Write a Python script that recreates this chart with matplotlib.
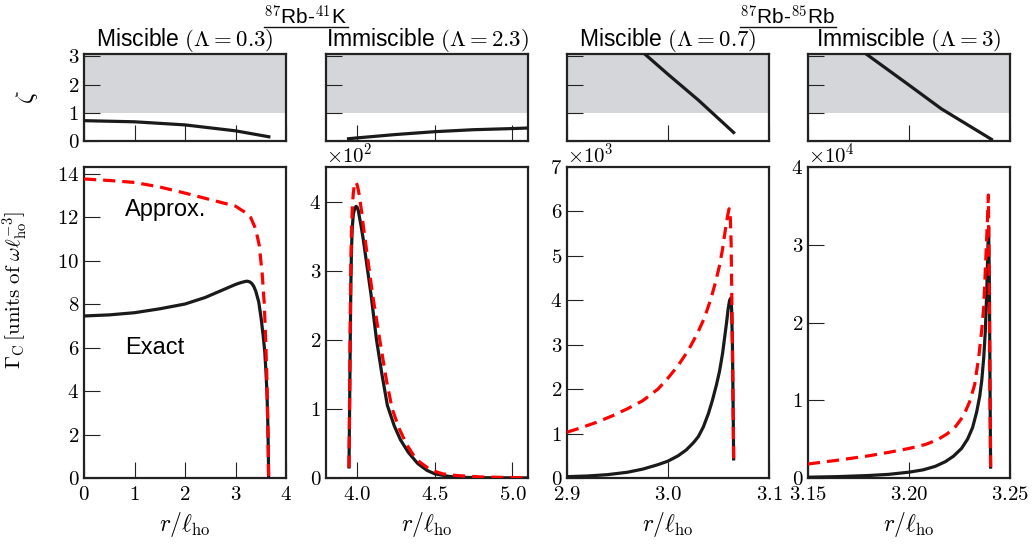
import numpy as np
import matplotlib
matplotlib.use("Agg")
import matplotlib.pyplot as plt
from matplotlib.lines import Line2D
from matplotlib.ticker import ScalarFormatter

plt.rcParams.update({
    "font.family": "serif",
    "font.serif": ["cmr10"],
    "mathtext.fontset": "cm",
    "axes.formatter.use_mathtext": True,
    "axes.unicode_minus": False,
})

SANS = "Liberation Sans"

# ---------------- data ----------------
# Panel A: 87Rb-41K miscible (Lambda = 0.3)
a_exact_r = [0.0, 0.5, 1.0, 1.5, 2.0, 2.2, 2.4, 2.7, 2.85, 3.0, 3.1, 3.18, 3.23, 3.28, 3.32,
             3.36, 3.4, 3.46, 3.51, 3.55, 3.58, 3.605, 3.625, 3.64, 3.65, 3.656]
a_exact_g = [7.45, 7.5, 7.6, 7.78, 8.0, 8.15, 8.3, 8.6, 8.75, 8.9, 8.98, 9.03, 9.05, 9.02, 8.95,
             8.82, 8.6, 8.1, 7.3, 6.5, 5.8, 4.8, 3.8, 2.5, 1.3, 0.0]
a_approx_r = [0.0, 0.5, 1.0, 1.5, 2.0, 2.5, 3.0, 3.2, 3.3, 3.4, 3.47, 3.53, 3.57, 3.6,
              3.62, 3.64, 3.656]
a_approx_g = [13.75, 13.68, 13.59, 13.38, 13.1, 12.8, 12.5, 12.2, 11.98, 11.45, 10.7, 9.35,
              8.0, 6.2, 4.7, 2.45, 0.0]
a_zeta_r = [0.0, 1.0, 2.0, 3.0, 3.66]
a_zeta = [0.72, 0.68, 0.57, 0.36, 0.15]

# Panel B: 87Rb-41K immiscible (Lambda = 2.3)
b_exact_r = [3.948, 3.951, 3.954, 3.957, 3.96, 3.964, 3.969, 3.976, 3.985, 3.993, 4.0, 4.008,
             4.015, 4.027, 4.04, 4.065, 4.09, 4.125, 4.16, 4.195, 4.24, 4.28, 4.33, 4.39,
             4.45, 4.5, 4.6, 4.7, 4.8, 5.1]
b_exact_g = [16, 80, 150, 220, 280, 330, 362, 382, 390, 393, 392, 387,
             378, 363, 345, 305, 265, 200, 150, 105, 75, 55, 37, 21,
             11, 6, 2, 0.8, 0.4, 0.1]
b_approx_r = [3.948, 3.951, 3.954, 3.957, 3.96, 3.964, 3.97, 3.976, 3.982, 3.988, 3.993, 3.999,
              4.005, 4.012, 4.02, 4.03, 4.04, 4.055, 4.07, 4.1, 4.146, 4.19, 4.226, 4.27,
              4.32, 4.38, 4.47, 4.55, 4.645, 4.8, 5.0, 5.1]
b_approx_g = [15, 90, 170, 245, 310, 360, 395, 413, 423, 428, 428, 425,
              420, 412, 400, 384, 365, 340, 315, 265, 200, 140, 100, 72,
              48, 27, 12, 6, 3.5, 1.5, 0.6, 0.4]
b_zeta_r = [3.945, 4.0, 4.25, 4.5, 4.75, 5.0, 5.1]
b_zeta = [0.08, 0.11, 0.23, 0.33, 0.4, 0.44, 0.46]

# Panel C: 87Rb-85Rb miscible (Lambda = 0.7)
c_exact_r = [2.9, 2.92, 2.94, 2.96, 2.975, 2.99, 3.0, 3.01, 3.018, 3.025, 3.03, 3.035,
             3.04, 3.044, 3.048, 3.051, 3.054, 3.056, 3.058, 3.0595, 3.061, 3.0622,
             3.063, 3.0638, 3.0644, 3.065]
c_exact_g = [30, 45, 75, 130, 200, 300, 380, 500, 630, 790, 930, 1150,
             1450, 1750, 2100, 2400, 2800, 3150, 3500, 3800, 4000, 4050,
             3800, 3000, 1800, 430]
c_approx_r = [2.9, 2.915, 2.93, 2.945, 2.96, 2.975, 2.99, 3.0, 3.01, 3.02, 3.029, 3.036,
              3.042, 3.047, 3.051, 3.054, 3.057, 3.059, 3.0605, 3.0615, 3.0625, 3.0635,
              3.0645, 3.065]
c_approx_g = [1030, 1140, 1260, 1400, 1560, 1740, 2000, 2250, 2530, 2870, 3250, 3600,
              4000, 4400, 4780, 5150, 5620, 5900, 6060, 6000, 5300, 3500,
              1500, 430]
c_zeta_r = [2.977, 3.0, 3.03, 3.065]
c_zeta = [3.08, 2.36, 1.45, 0.3]

# Panel D: 87Rb-85Rb immiscible (Lambda = 3)
d_exact_r = [3.15, 3.165, 3.18, 3.19, 3.2, 3.207, 3.213, 3.218, 3.222, 3.226, 3.229,
             3.2315, 3.2335, 3.235, 3.236, 3.237, 3.2378, 3.2385, 3.239, 3.2394,
             3.2398, 3.2401, 3.2404]
d_exact_g = [100, 180, 320, 470, 750, 1050, 1500, 2100, 2800, 3800, 5000,
             6500, 8500, 10500, 12500, 15500, 19000, 24000, 29000, 32300,
             25000, 12000, 1400]
d_approx_r = [3.15, 3.165, 3.18, 3.19, 3.2, 3.208, 3.214, 3.219, 3.223, 3.227, 3.23,
              3.2325, 3.2345, 3.236, 3.237, 3.238, 3.2388, 3.2393, 3.2398, 3.2404]
d_approx_g = [1800, 2300, 2850, 3300, 3800, 4300, 4900, 5700, 6600, 8000, 9800,
              12000, 15500, 19000, 22000, 28000, 33000, 36400, 22000, 1400]
d_zeta_r = [3.1788, 3.19, 3.2, 3.216, 3.23, 3.2408]
d_zeta = [3.08, 2.5, 1.98, 1.14, 0.53, 0.06]

titles = [r"Miscible $(\Lambda=0.3)$", r"Immiscible $(\Lambda=2.3)$",
          r"Miscible $(\Lambda=0.7)$", r"Immiscible $(\Lambda=3)$"]
group_titles = [r"$^{87}$Rb-$^{41}$K", r"$^{87}$Rb-$^{85}$Rb"]

xlims = [(0, 4), (3.8, 5.1), (2.9, 3.1), (3.15, 3.25)]
xticks = [[0, 1, 2, 3, 4], [4.0, 4.5, 5.0], [2.9, 3.0, 3.1], [3.15, 3.20, 3.25]]
ylims = [(0, 14.3), (0, 450), (0, 7000), (0, 40000)]
yticks = [[0, 2, 4, 6, 8, 10, 12, 14], [0, 100, 200, 300, 400],
          [0, 1000, 2000, 3000, 4000, 5000, 6000, 7000],
          [0, 10000, 20000, 30000, 40000]]
sci_power = [None, 2, 3, 4]
zeta_ticks = [0, 1, 2, 3]

exact = [(a_exact_r, a_exact_g), (b_exact_r, b_exact_g), (c_exact_r, c_exact_g), (d_exact_r, d_exact_g)]
approx = [(a_approx_r, a_approx_g), (b_approx_r, b_approx_g), (c_approx_r, c_approx_g), (d_approx_r, d_approx_g)]
zetas = [(a_zeta_r, a_zeta), (b_zeta_r, b_zeta), (c_zeta_r, c_zeta), (d_zeta_r, d_zeta)]

# ---------------- figure ----------------
W, H = 1034, 545
fig = plt.figure(figsize=(W / 100, H / 100), dpi=100)

lefts_px = [84, 326, 567, 808]
width_px = 202
bot_top, bot_bottom = 167, 478
top_top, top_bottom = 54, 141

SPINE = "#222222"
RED = "#ff0000"

def style_axes(ax):
    for s in ax.spines.values():
        s.set_linewidth(1.6)
        s.set_color(SPINE)
    ax.tick_params(direction="in", length=11.5, width=0.8, color=SPINE,
                   labelsize=15, top=False, right=False)
    ax.tick_params(axis="x", pad=6)
    ax.tick_params(axis="y", pad=3.5)

for i in range(4):
    l = lefts_px[i] / W
    w = width_px / W
    axb = fig.add_axes([l, (H - bot_bottom) / H, w, (bot_bottom - bot_top) / H])
    axt = fig.add_axes([l, (H - top_bottom) / H, w, (top_bottom - top_top) / H])

    # bottom panel
    xr, g = exact[i]
    axb.plot(xr, g, color="#1a1a1a", lw=2.3, solid_joinstyle="round", zorder=3)
    xr, g = approx[i]
    axb.plot(xr, g, color=RED, lw=2.3, dashes=(3.8, 2.2), zorder=4)
    axb.set_xlim(*xlims[i])
    axb.set_ylim(*ylims[i])
    axb.set_xticks(xticks[i])
    axb.set_yticks(yticks[i])
    fmtx = ScalarFormatter(useMathText=True)
    fmtx.set_useOffset(False)
    axb.xaxis.set_major_formatter(fmtx)
    if sci_power[i] is not None:
        fmty = ScalarFormatter(useMathText=True)
        fmty.set_powerlimits((sci_power[i], sci_power[i]))
        axb.yaxis.set_major_formatter(fmty)
        axb.yaxis.get_offset_text().set_fontsize(15)
    style_axes(axb)
    axb.set_xlabel(r"$r/\ell_{\rm ho}$", fontsize=17, labelpad=4)

    # top panel
    axt.axhspan(1, 3.2, color="#d5d6d9", lw=0, zorder=0)
    zr, z = zetas[i]
    axt.plot(zr, z, color="#1a1a1a", lw=2.3, zorder=3)
    axt.set_xlim(*xlims[i])
    axt.set_ylim(0, 3.08)
    axt.set_xticks(xticks[i])
    axt.set_yticks(zeta_ticks)
    axt.set_xticklabels([])
    style_axes(axt)
    if i > 0:
        axt.set_yticklabels([])
    axt.set_title(titles[i], fontfamily=SANS, fontsize=16.5, pad=4)

    if i == 0:
        axt.set_ylabel(r"$\zeta$", fontsize=18)
        axt.yaxis.set_label_coords(-0.22, 0.5)
        axb.set_ylabel(r"$\Gamma_{\rm C}\,[{\rm units\ of\ }\omega\ell_{\rm ho}^{-3}]$", fontsize=15)
        axb.yaxis.set_label_coords(-0.265, 0.605)
        axb.text(0.81, 12.3, "Approx.", fontfamily=SANS, fontsize=17, va="center", ha="left")
        axb.text(0.81, 6.0, "Exact", fontfamily=SANS, fontsize=17, va="center", ha="left")

# group titles with rule underneath
fig.canvas.draw()
renderer = fig.canvas.get_renderer()
centers_px = [306, 788]
for cx, gt in zip(centers_px, group_titles):
    t = fig.text(cx / W, 1 - 24.5 / H, gt, fontfamily=SANS, fontsize=15,
                 ha="center", va="baseline")
    bb = t.get_window_extent(renderer=renderer)
    y_line = 1 - 27 / H
    fig.add_artist(Line2D([bb.x0 / W, bb.x1 / W], [y_line, y_line],
                          transform=fig.transFigure, color="#111111", lw=1.0))

fig.savefig("out.png", dpi=100)
